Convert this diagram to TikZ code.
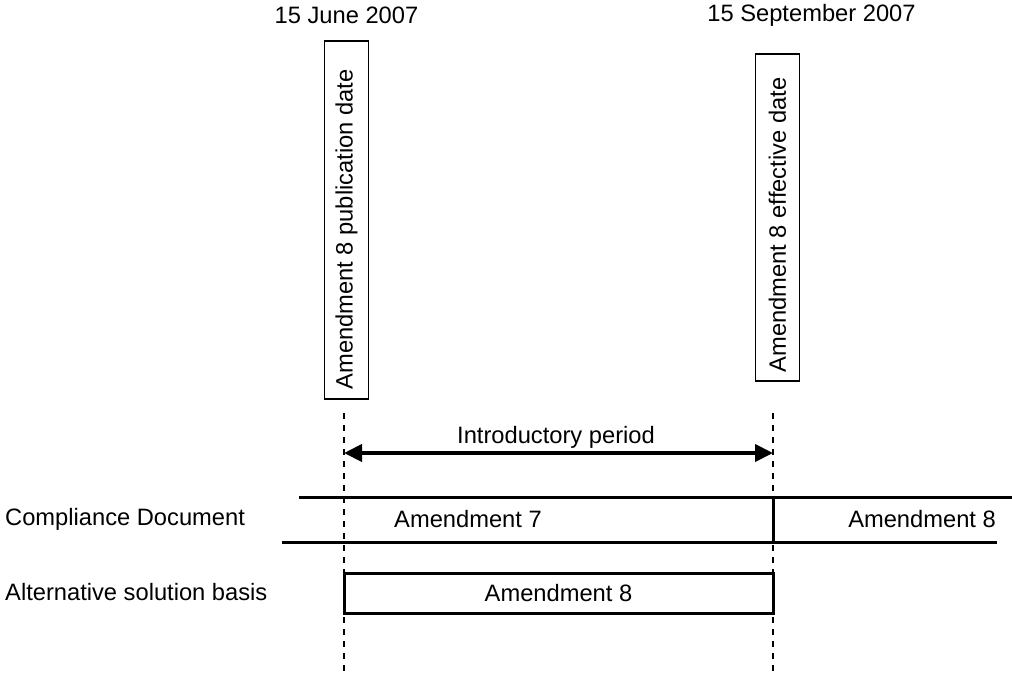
\documentclass[tikz,border=0pt]{standalone}
\usepackage{fontspec}
\setmainfont{Liberation Sans}
\usetikzlibrary{arrows.meta}
\begin{document}
\begin{tikzpicture}[x=1pt,y=-1pt,
  lbl/.style={font=\fontsize{23.7}{26}\selectfont, inner sep=0pt},
  datebox/.style={draw, line width=1.3pt, minimum width=44pt, inner sep=0pt},
  vtext/.style={lbl, rotate=90, anchor=west},
  guide/.style={line width=1.3pt, dash pattern=on 6pt off 6pt},
  thick line/.style={line width=3pt},
  every node/.style={text=black}]
\useasboundingbox (0,0) rectangle (1012,673);
% date labels
\node[lbl] (d1) at (346.5,15) {15 June 2007};
\node[lbl] (d2) at (811.5,15) {15 September 2007};
% rotated boxes
\node[datebox, minimum height=358pt] (b1) at (346.5,220) {};
\node[datebox, minimum height=327pt] (b2) at (777.5,217.5) {};
\node[vtext] (t1) at ([yshift=10pt]b1.south) {Amendment 8 publication date};
\node[vtext] (t2) at ([yshift=9pt]b2.south) {Amendment 8 effective date};
% guide coordinates
\coordinate (g1t) at (344,413);
\coordinate (g1b) at (344,673);
\coordinate (g2t) at (773,413);
\coordinate (g2b) at (773,673);
\draw[guide] (g1t) -- (g1b);
\draw[guide] (g2t) -- (g2b);
% arrow
\coordinate (a1) at (344,453);
\coordinate (a2) at (773,453);
\draw[line width=4pt, {Triangle[length=18pt,width=17pt]}-{Triangle[length=18pt,width=17pt]}] (a1) -- (a2);
\node[lbl] (intro) at (556,437) {Introductory period};
% compliance document lines
\coordinate (l1) at (299,497);
\coordinate (l2) at (1012,497);
\coordinate (u1) at (282,542);
\coordinate (u2) at (997,542);
\coordinate (m1) at (773,497);
\coordinate (m2) at (773,542);
\draw[thick line] (l1) -- (l2);
\draw[thick line] (u1) -- (u2);
\draw[thick line] (m1) -- (m2);
\node[lbl, anchor=west] (cd) at (5,519) {Compliance Document};
\node[lbl] (am7) at (468,519) {Amendment 7};
\node[lbl, anchor=east] (am8a) at (996,519) {Amendment 8};
% alternative solution
\node[lbl, anchor=west] (asb) at (5,592) {Alternative solution basis};
\node[draw, line width=3pt, minimum width=429pt, minimum height=40pt, inner sep=0pt] (box) at (558.5,593) {};
\node[lbl] (am8b) at (box.center) {Amendment 8};
\end{tikzpicture}
\end{document}
